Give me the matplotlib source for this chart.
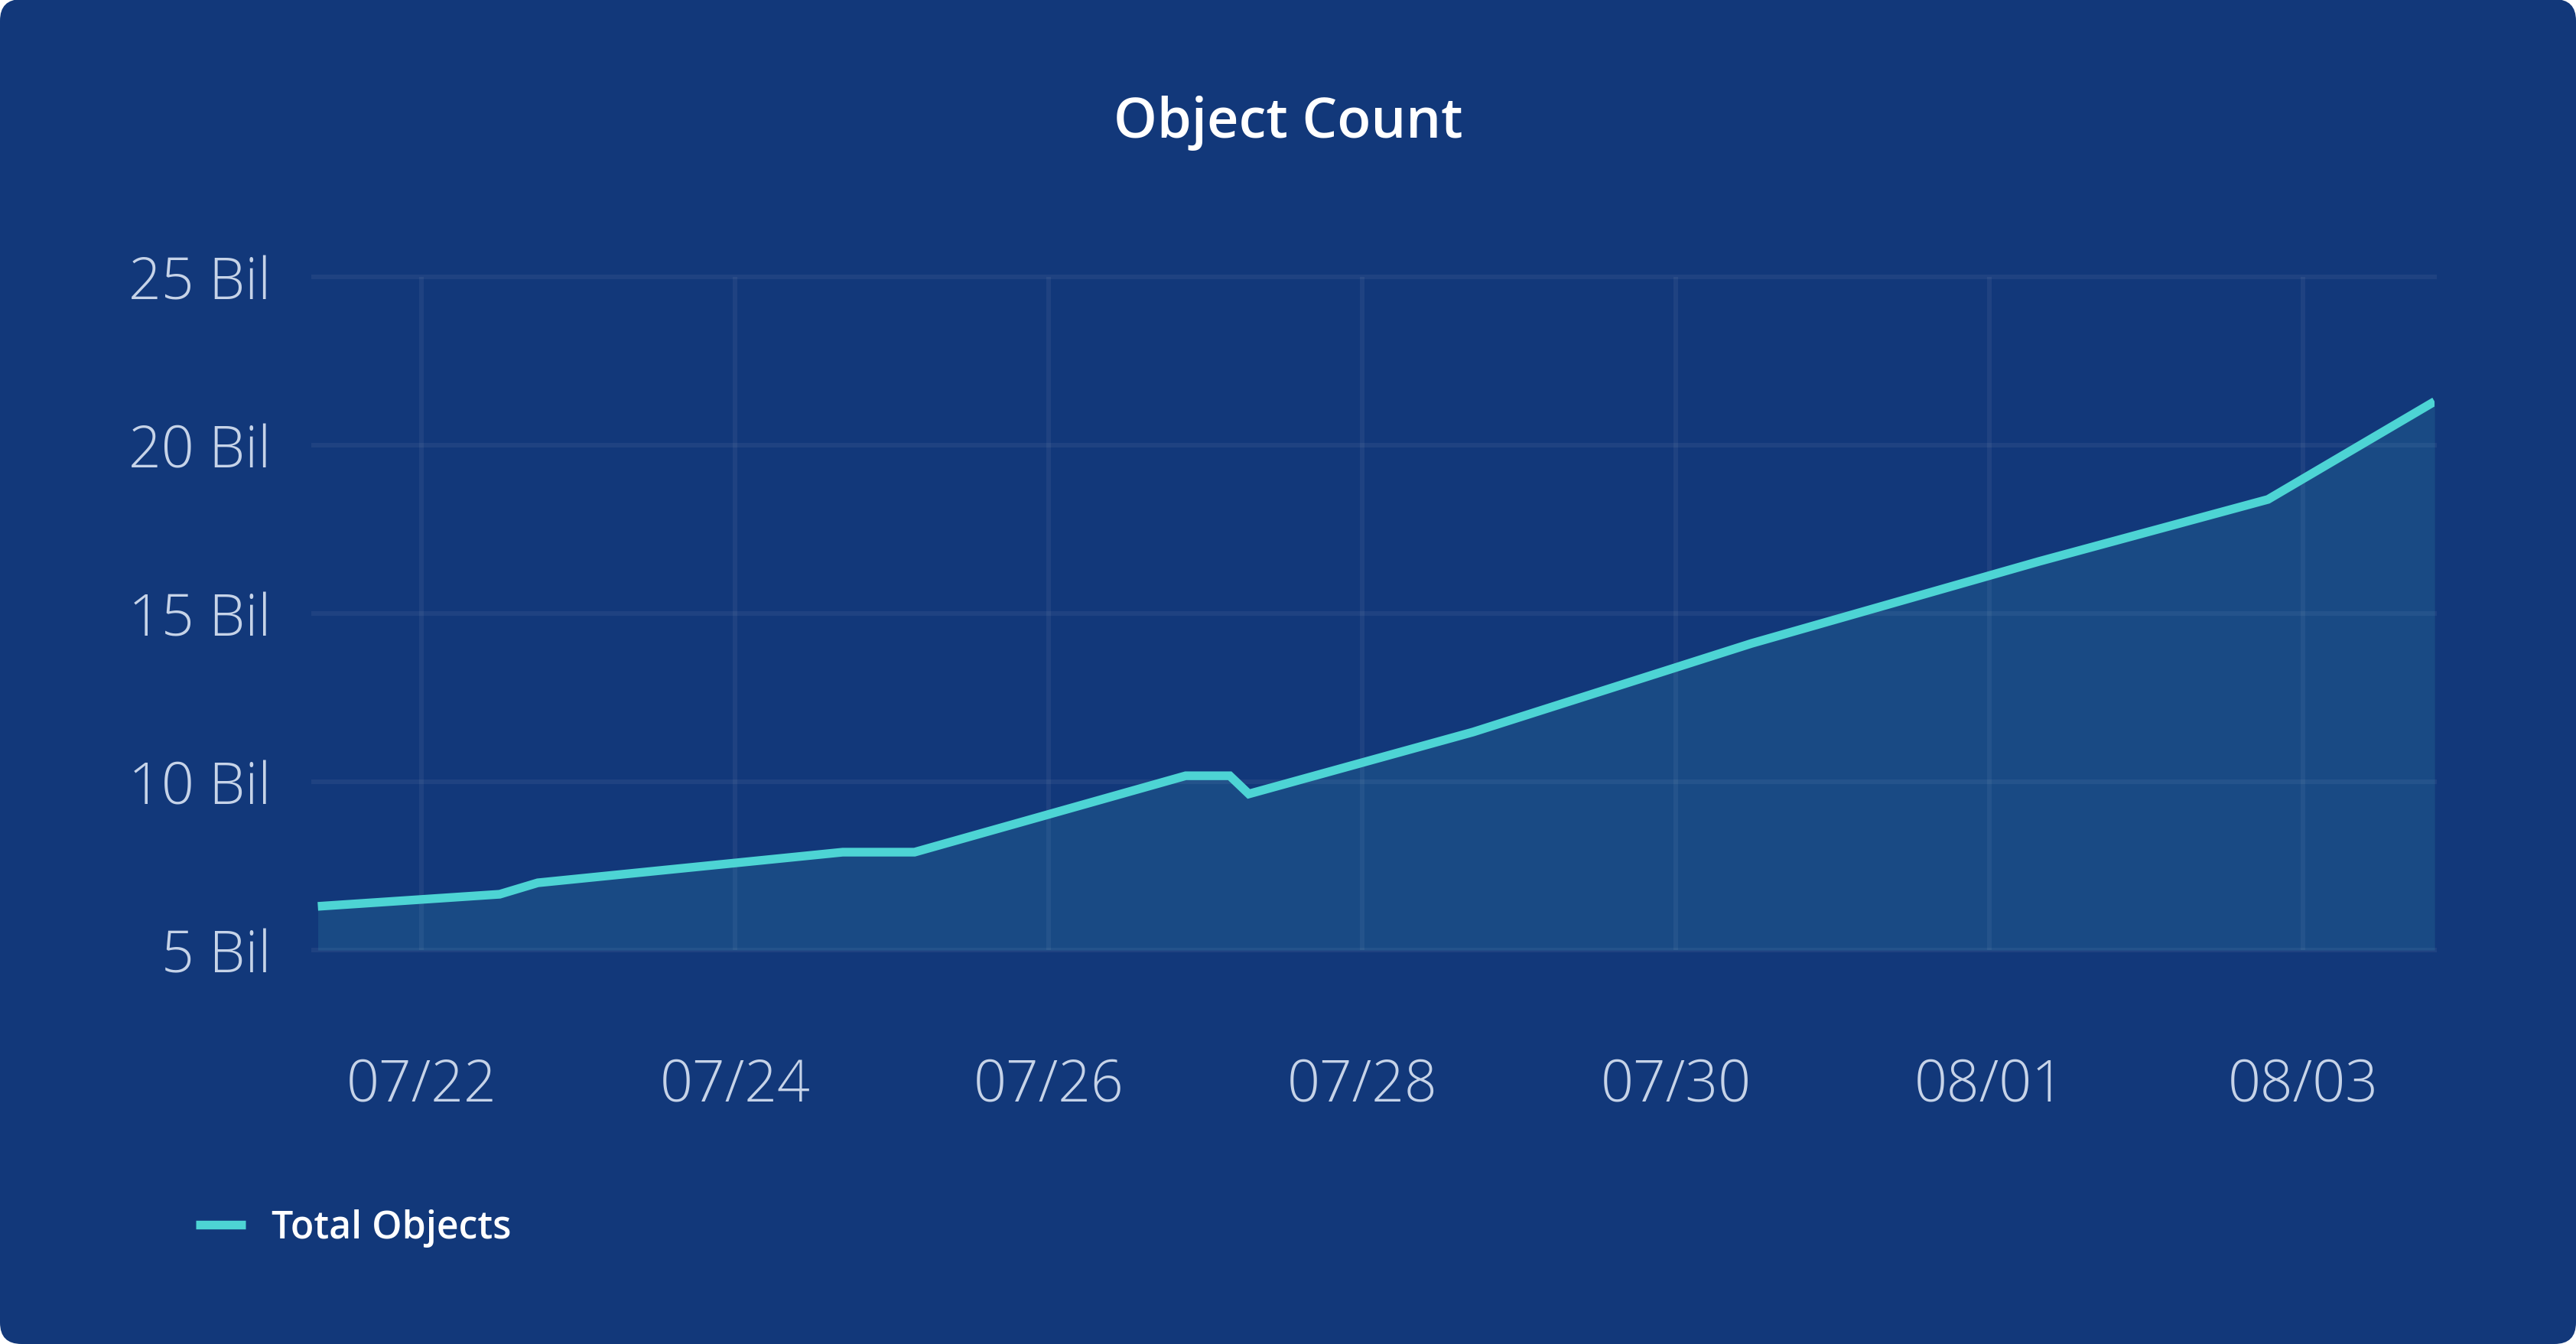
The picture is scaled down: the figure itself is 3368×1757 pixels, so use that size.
import pandas as pd
import matplotlib
matplotlib.use("Agg")
import matplotlib.pyplot as plt
import matplotlib.dates as mdates
from matplotlib.patches import FancyBboxPatch
from matplotlib.transforms import IdentityTransform
from matplotlib.ticker import FuncFormatter

# data (values in billions)
timestamps = [
    "2023-07-21 08:10", "2023-07-22 12:00", "2023-07-22 17:50",
    "2023-07-24 16:30", "2023-07-25 03:30", "2023-07-26 21:00",
    "2023-07-27 03:45", "2023-07-27 06:40", "2023-07-28 17:00",
    "2023-07-30 11:35", "2023-08-01 07:40", "2023-08-02 18:40",
    "2023-08-03 20:10",
]
total_objects = [6.30, 6.66, 7.00, 7.91, 7.91, 10.18, 10.18, 9.64,
                 11.48, 14.11, 16.55, 18.39, 21.30]
tick_days = ["2023-07-22", "2023-07-24", "2023-07-26", "2023-07-28",
             "2023-07-30", "2023-08-01", "2023-08-03"]
y_ticks = [5, 10, 15, 20, 25]

df = pd.DataFrame({"time": pd.to_datetime(timestamps), "objects": total_objects})

bg = "#12387a"
line_color = "#4dd4d4"
label_color = "#c6d3e8"

plt.rcParams["font.family"] = ["Open Sans", "DejaVu Sans"]

fig = plt.figure(figsize=(16.84, 8.79), dpi=200, facecolor="white")

# rounded card behind everything
card = FancyBboxPatch((0, 0), 3368, 1758, boxstyle="round,pad=0,rounding_size=28",
                      facecolor=bg, edgecolor="none", transform=IdentityTransform(),
                      zorder=-10)
fig.patches.append(card)

ax = fig.add_axes([0.1217, 0.2929, 0.8234, 0.5006])
ax.set_facecolor("none")

ax.fill_between(df["time"], df["objects"], 5, color=line_color, alpha=0.12,
                linewidth=0, zorder=1)
ax.plot(df["time"], df["objects"], color=line_color, linewidth=4.1,
        solid_capstyle="butt", solid_joinstyle="miter", zorder=3,
        label="Total Objects")

ax.set_ylim(5, 25)
ax.set_xlim(pd.Timestamp("2023-07-21 07:30"), df["time"].iloc[-1])
ax.set_yticks(y_ticks)
ax.yaxis.set_major_formatter(FuncFormatter(lambda v, p: f"{v:g} Bil"))
ax.set_xticks(pd.to_datetime(tick_days))
ax.xaxis.set_major_formatter(mdates.DateFormatter("%m/%d"))

ax.grid(True, color="white", alpha=0.055, linewidth=2.2)
ax.set_axisbelow(True)
for gl in ax.get_ygridlines():
    gl.set_clip_on(False)

for s in ax.spines.values():
    s.set_visible(False)
ax.tick_params(axis="both", length=0, labelcolor=label_color, labelsize=27)
ax.tick_params(axis="y", pad=20)
ax.tick_params(axis="x", pad=50)
for lbl in ax.get_xticklabels() + ax.get_yticklabels():
    lbl.set_fontweight("light")
for lbl in ax.get_yticklabels():
    lbl.set_va("center_baseline")

fig.text(0.5, 1 - 161 / 1758, "Object Count", ha="center", va="center",
         color="white", fontsize=26, fontweight="semibold")

leg = fig.legend(loc="center left", bbox_to_anchor=(256 / 3368, 1 - 1606 / 1758),
                 frameon=False, borderpad=0, borderaxespad=0,
                 handlelength=1.3, handletextpad=0.68,
                 prop={"size": 18, "weight": "semibold"})
for t in leg.get_texts():
    t.set_color("white")

fig.savefig("out.png", dpi=200, facecolor="white")
